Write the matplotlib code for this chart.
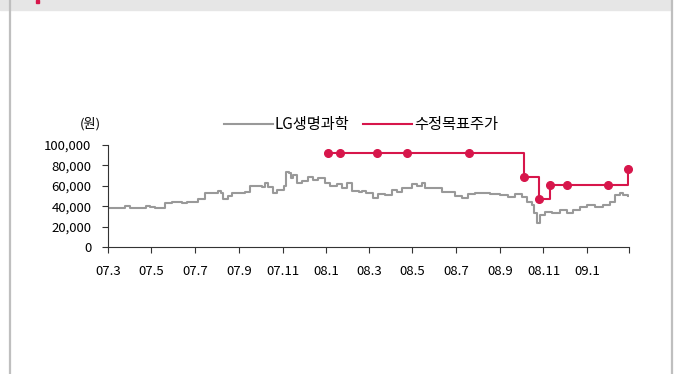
import pandas as pd
import matplotlib
matplotlib.use("Agg")
from matplotlib import pyplot as plt
from matplotlib.patches import Rectangle
from matplotlib.lines import Line2D

plt.rcParams['font.family'] = ['Noto Sans CJK KR', 'DejaVu Sans']

# LG생명과학 주가
price_dates = [
    '2007-03-01', '2007-03-24', '2007-03-25', '2007-04-01', '2007-04-19', '2007-04-24',
    '2007-04-29', '2007-05-06', '2007-05-16', '2007-05-20', '2007-05-30', '2007-06-07',
    '2007-06-13', '2007-06-20', '2007-07-01', '2007-07-05', '2007-07-15', '2007-07-25',
    '2007-08-02', '2007-08-07', '2007-08-10', '2007-08-17', '2007-08-22', '2007-09-02',
    '2007-09-09', '2007-09-16', '2007-09-27', '2007-10-03', '2007-10-07', '2007-10-11',
    '2007-10-18', '2007-10-24', '2007-10-31', '2007-11-03', '2007-11-06', '2007-11-10',
    '2007-11-13', '2007-11-16', '2007-11-21', '2007-11-28', '2007-12-07', '2007-12-14',
    '2007-12-21', '2007-12-31', '2008-01-07', '2008-01-17', '2008-01-24', '2008-01-31',
    '2008-02-07', '2008-02-16', '2008-02-21', '2008-02-26', '2008-03-07', '2008-03-14',
    '2008-03-24', '2008-04-02', '2008-04-09', '2008-04-16', '2008-04-25', '2008-04-30',
    '2008-05-07', '2008-05-14', '2008-05-19', '2008-06-04', '2008-06-11', '2008-06-25',
    '2008-06-30', '2008-07-10', '2008-07-18', '2008-07-28', '2008-08-11', '2008-08-18',
    '2008-09-01', '2008-09-12', '2008-09-22', '2008-10-02', '2008-10-09', '2008-10-16',
    '2008-10-19', '2008-10-23', '2008-10-27', '2008-11-03', '2008-11-13', '2008-11-24',
    '2008-12-04', '2008-12-12', '2008-12-22', '2009-01-01', '2009-01-12', '2009-01-23',
    '2009-02-02', '2009-02-09', '2009-02-16', '2009-02-20', '2009-02-27',
]
price = [
    38500, 38500, 40000, 38500, 38500, 40000,
    39500, 38500, 38500, 43400, 44400, 44400,
    43000, 44400, 44400, 46800, 52600, 52600,
    55200, 53000, 46800, 50000, 52600, 52600,
    54200, 59800, 59800, 58500, 62400, 59000,
    52600, 55900, 55900, 59800, 73800, 72500,
    67300, 70500, 62400, 65000, 68900, 65700,
    67300, 62400, 59800, 61800, 57800, 62400,
    55200, 54200, 54900, 52600, 48400, 51600,
    51000, 55900, 53600, 57500, 57500, 61800,
    59800, 62400, 57500, 57500, 54200, 54200,
    50300, 48400, 51600, 52600, 52600, 52000,
    51000, 49300, 52000, 49300, 44400, 41200,
    33000, 23200, 31400, 34600, 33000, 36300,
    33000, 36300, 39500, 41200, 39500, 41200,
    44400, 51000, 52600, 51000, 50000,
]

# 수정목표주가
target_dates = [
    '2008-01-04', '2008-01-21', '2008-03-13', '2008-04-24', '2008-07-20',
    '2008-10-04', '2008-10-26', '2008-11-10', '2008-12-04', '2009-01-31', '2009-02-27',
]
target = [92000, 92000, 92000, 92000, 92000, 69000, 47000, 61000, 61000, 61000, 76000]

xtick_dates = pd.date_range('2007-03-01', '2009-03-01', freq='2MS')
xtick_labels = ['07.3', '07.5', '07.7', '07.9', '07.11', '08.1',
                '08.3', '08.5', '08.7', '08.9', '08.11', '09.1', '']
yticks = [0, 20000, 40000, 60000, 80000, 100000]

gray = '#999999'
red = '#d7164b'

fig = plt.figure(figsize=(6.8, 3.74), dpi=100)

# header band and frame
fig.patches.append(Rectangle((0, 1 - 10 / 374), 671 / 680, 10 / 374,
                             transform=fig.transFigure, color='#e6e6e6', zorder=0))
fig.patches.append(Rectangle((36 / 680, 1 - 3 / 374), 3 / 680, 3 / 374,
                             transform=fig.transFigure, color=red, zorder=1))
for xx in (9.5 / 680, 672 / 680):
    fig.lines.append(Line2D([xx, xx], [0, 1], transform=fig.transFigure,
                            color='#bfbfbf', lw=1.6))

ax = fig.add_axes([108 / 680, 1 - 247 / 374, (629 - 108) / 680, (247 - 145) / 374])

ax.plot(pd.to_datetime(price_dates), price, color=gray, lw=1.5,
        drawstyle='steps-post', label='LG생명과학')
ax.step(pd.to_datetime(target_dates), target, where='post', color=red, lw=1.5,
        label='수정목표주가')
ax.plot(pd.to_datetime(target_dates), target, 'o', color=red, ms=5.5, clip_on=False)

ax.set_xlim(pd.Timestamp('2007-03-01'), pd.Timestamp('2009-03-01'))
ax.set_ylim(0, 100000)
ax.set_xticks(xtick_dates)
ax.set_xticklabels(xtick_labels)
ax.set_yticks(yticks)
ax.set_yticklabels([f'{v:,}' for v in yticks])

for s in ('top', 'right'):
    ax.spines[s].set_visible(False)
for s in ('left', 'bottom'):
    ax.spines[s].set_color('#333333')
    ax.spines[s].set_linewidth(0.8)
ax.tick_params(axis='both', length=4, width=0.8, color='#333333', labelsize=9.5)
ax.tick_params(axis='y', pad=8)
ax.tick_params(axis='x', pad=9)

fig.text(0.133, 0.668, '(원)', ha='center', va='center', fontsize=9.5)

leg = ax.legend(loc='center', bbox_to_anchor=(0.531, 0.666), bbox_transform=fig.transFigure,
                ncol=2, frameon=False, fontsize=11, handlelength=3.2,
                handletextpad=0.15, columnspacing=0.9)

plt.savefig('out.png', dpi=100)
